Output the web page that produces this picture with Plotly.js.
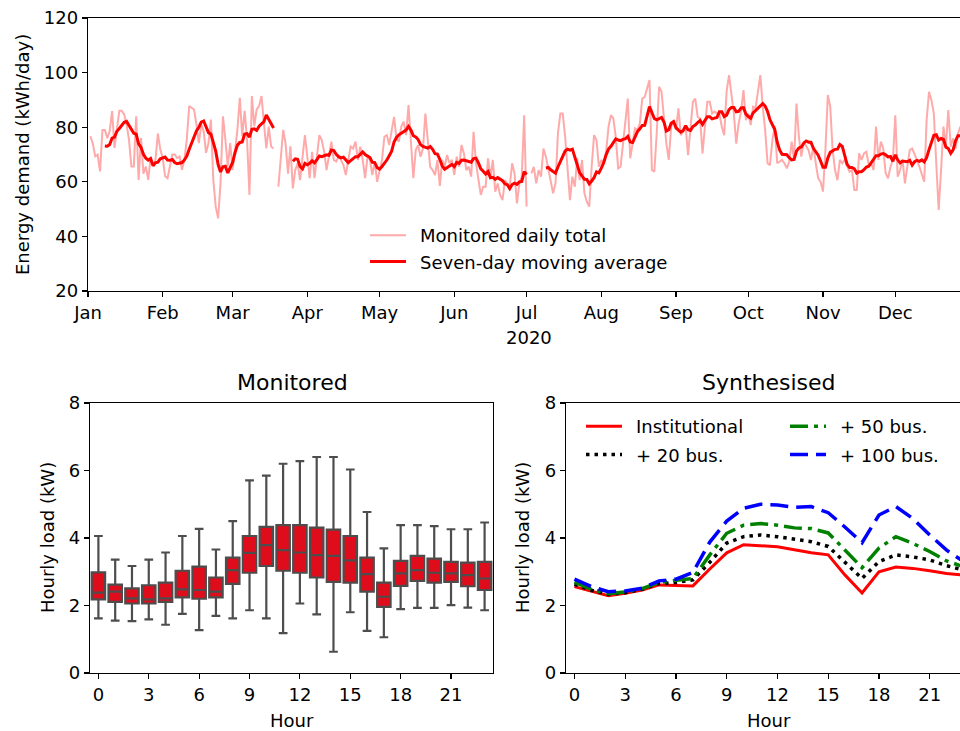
<!DOCTYPE html>
<html>
<head>
<meta charset="utf-8">
<script src="https://cdn.plot.ly/plotly-3.0.1.min.js"></script>
<style>
  html, body { margin: 0; padding: 0; overflow: hidden; background: #fff; }
  #chart { width: 980px; height: 731px; }
</style>
</head>
<body>
<div id="chart"></div>
<script>
// ---------- DATA ----------
// Daily monitored energy demand (kWh/day), one value per day starting 2020-01-01 (null = missing)
const dailyStart = '2020-01-01';
const dailyTotal = [
  null, 76.7, 74, 69.3, 69.9, 63.8, 79, 79, 76, 78.5,
  85.9, 72.4, 79, 86, 86, 84.7, 81, 75.5, 65.6, 65.6,
  84, 60.7, 76, 63, 65.6, 60.7, 69.3, 66, 68, 77.7,
  71.8, 68.7, 62, 61.3, 65.6, 70, 70, 68.7, 69.3, 64.4,
  68, 75.5, 87.7, 87.1, 86.5, 81, 74.2, 81, 78.5, 70.6,
  74.2, 82.8, 60.7, 50.9, 46.6, 59.5, 84, 75.5, 65.6, 74.2,
  64.4, 71.2, 79.1, 90.8, 76.7, 86, 75.5, 55.2, 91.4, 80.4,
  86.5, 87.7, 91.4, 81.6, 72.2, 80.2, 72.9, 72.2, null, 58.2,
  68, 79, 74, 63, 73, 57.6, 64.3, 66.8, 60.6, 68,
  77.1, 69.2, 61.3, 71, 61.3, 69.2, 77.1, 75.3, 71, 64.3,
  69.8, 74.7, 68, 67.4, 69.2, 68, 66.1, 62.5, 68, 72.9,
  72.2, 74.7, 68, 72.9, 68, 61.3, 69.2, 68, 62.5, 67.4,
  60, 64.3, 68, 76.5, 77.1, 73.5, 79, 83.8, 75.9, 74.7,
  80.2, 82, 77.1, 88.1, 74.7, 61.3, 71.6, 73.5, 69.2, 72.2,
  85, 73.5, 65.5, 64.3, 62.5, 68, 58.5, 68, 65.5, 69.8,
  66.8, 68, 62.5, 69.2, 65.5, 73.5, 70.4, 64.3, 65.5, 61.9,
  78.3, 66.8, 61.3, 55.2, 58.2, 58.2, 68.6, 61.9, 68, 56.4,
  59.4, 55.2, 53.3, 60.6, 59.4, 58.2, 66.8, 63.1, 52.1, 59.4,
  61.9, 84.4, 50.9, null, 63.1, 65.5, 59.4, 64.3, 61.9, 72.2,
  69.2, 64.3, 59.4, 55.8, 59.4, 77.7, 85, 85, 76.5, 64.3,
  53.3, 61.9, 58.2, 68.6, 60.6, 68, 55.8, 52.7, 50.9, 65.5,
  77.1, 75.3, 65.5, 68, 66.8, 71, 80.2, 84.4, 83.2, 76.5,
  64.9, 65.5, 74, 82, 90.5, 68.6, 75, 79.6, 78.9, 81.4,
  90.5, 91, 94.2, 97.3, 64.3, 63.7, 77.7, 94.8, 93, 82.6,
  74, 68, 80.2, 82, 79, 86.9, 77.1, 78.3, 80.2, 69.8,
  80.2, 89.3, 90.5, 83.8, 83.2, 70.4, 80.2, 89.3, 89.3, 85,
  85.7, 85, 85, 80.2, 77.1, 93, 99.1, 91.2, 85, 74,
  81.4, 85.7, 93.6, 82.6, 85, 80.8, 87.5, 86.9, 93.6, 99.1,
  87.5, 78.9, 66.8, 66.1, 75.3, 80.2, 66.8, 67.4, 68, 66.8,
  64.9, 67.4, 74.7, 68, 88.7, 76.5, 69.2, 74.7, 72.9, 71.6,
  68, 72.9, 66.8, 61.3, 60, 56.4, 71.6, 91.8, 87.5, 71.6,
  64.3, 60.6, 68, 66.8, 68, 65.5, 63.7, 64.3, 57, 57,
  70.4, 68, 70.4, 71, 66.1, 66.8, 64.3, 80.2, 68, 74.7,
  72.2, 63.1, 61.3, 65.5, 68, 84.4, 61.9, 64.3, 68, 59.4,
  65.5, 71.6, 72.2, 70.4, 68, 65.5, 63.1, 60, 82.6, 93,
  89.9, 85, 66.8, 49.7, 64.3, 80.2, 72.9, 86.3, 72.9, 75.9,
  72.2, 77.7, 80.2, 74
];
const monthTickLabels = ['Jan','Feb','Mar','Apr','May','Jun','Jul','Aug','Sep','Oct','Nov','Dec'];

// Monitored hourly load box statistics (kW)
const hours = [0,1,2,3,4,5,6,7,8,9,10,11,12,13,14,15,16,17,18,19,20,21,22,23];
const boxLower  = [1.62,1.55,1.54,1.59,1.43,1.75,1.27,1.69,1.62,1.86,1.62,1.18,2.06,1.74,0.63,1.80,1.25,1.06,1.89,1.93,1.93,2.01,1.94,1.86];
const boxQ1     = [2.18,2.11,2.06,2.06,2.11,2.24,2.20,2.24,2.64,2.97,3.17,3.03,2.97,2.83,2.70,2.68,2.41,1.96,2.58,2.73,2.68,2.70,2.57,2.46];
const boxMedian = [2.38,2.41,2.21,2.18,2.21,2.48,2.46,2.41,3.05,3.56,3.79,3.64,3.57,3.49,3.47,3.34,2.93,2.26,2.95,3.05,2.97,2.95,2.90,2.80];
const boxQ3     = [2.98,2.62,2.51,2.60,2.68,3.03,3.15,2.83,3.42,4.06,4.33,4.38,4.38,4.31,4.25,4.06,3.42,2.68,3.32,3.47,3.39,3.29,3.27,3.29];
const boxUpper  = [4.06,3.36,3.17,3.36,3.57,4.06,4.27,3.66,4.50,5.71,5.85,6.20,6.28,6.40,6.40,6.03,4.77,3.69,4.38,4.38,4.35,4.26,4.26,4.46];

// Synthesised hourly load profiles (kW)
const institutional = [2.56,2.43,2.29,2.36,2.46,2.61,2.60,2.58,3.08,3.56,3.80,3.78,3.74,3.65,3.56,3.50,2.90,2.37,3.00,3.14,3.10,3.03,2.95,2.90];
const plus20bus     = [2.63,2.45,2.33,2.38,2.48,2.65,2.68,2.76,3.28,3.85,4.04,4.09,4.04,3.97,3.89,3.75,3.28,2.80,3.30,3.50,3.44,3.35,3.18,3.05];
const plus50bus     = [2.69,2.48,2.35,2.40,2.50,2.68,2.75,2.80,3.50,4.14,4.38,4.43,4.38,4.30,4.28,4.15,3.64,3.12,3.70,4.04,3.84,3.60,3.32,3.15];
const plus100bus    = [2.78,2.56,2.41,2.43,2.51,2.73,2.78,2.98,3.88,4.50,4.88,5.00,4.98,4.91,4.93,4.75,4.32,3.86,4.68,4.93,4.58,4.09,3.64,3.30];
const hourTicks = [0,3,6,9,12,15,18,21];

// Seven-day (trailing) moving average of the monitored daily totals
const movingAvg = dailyTotal.map((v, i) => {
  if (i < 6) return null;
  const w = dailyTotal.slice(i - 6, i + 1);
  if (w.some(x => x === null)) return null;
  return w.reduce((a, b) => a + b, 0) / 7;
});

// ---------- LAYOUT HELPERS ----------
const W = 980, H = 731;
const fx = p => p / W;
const fy = p => 1 - p / H;
const FONT = 'DejaVu Sans, Liberation Sans, sans-serif';
const DAY = 86400000;
const GAP = '\u2002'; // spacing between legend line sample and label

const axisCommon = {
  showline: true, mirror: true, linecolor: '#000', linewidth: 1.2,
  ticks: 'outside', ticklen: 5, tickwidth: 1.2, tickcolor: '#000',
  showgrid: false, zeroline: false, automargin: false,
  tickfont: { family: FONT, size: 18, color: '#000' }
};

const traces = [
  {
    type: 'scatter', mode: 'lines', name: GAP + 'Monitored daily total',
    x0: dailyStart, dx: DAY, y: dailyTotal,
    line: { color: '#ffaaaa', width: 2 }, connectgaps: false,
    xaxis: 'x', yaxis: 'y', legend: 'legend', legendgroup: 'a'
  },
  {
    type: 'scatter', mode: 'lines', name: GAP + 'Seven-day moving average',
    x0: dailyStart, dx: DAY, y: movingAvg,
    line: { color: '#ff0000', width: 3 }, connectgaps: false,
    xaxis: 'x', yaxis: 'y', legend: 'legend', legendgroup: 'b'
  },
  {
    type: 'box', name: 'Monitored', x: hours,
    q1: boxQ1, median: boxMedian, q3: boxQ3,
    lowerfence: boxLower, upperfence: boxUpper,
    boxpoints: false, width: 0.8, whiskerwidth: 0.65,
    fillcolor: '#df0d1c', line: { color: '#4d4d4d', width: 2.2 },
    xaxis: 'x2', yaxis: 'y2', showlegend: false
  },
  {
    type: 'scatter', mode: 'lines', name: GAP + 'Institutional', x: hours, y: institutional,
    line: { color: '#ff0000', width: 3 }, xaxis: 'x3', yaxis: 'y3',
    legend: 'legend2', legendgroup: 'c'
  },
  {
    type: 'scatter', mode: 'lines', name: GAP + '+ 20 bus.', x: hours, y: plus20bus,
    line: { color: '#000000', width: 3.5, dash: '3.5px,5px' }, xaxis: 'x3', yaxis: 'y3',
    legend: 'legend2', legendgroup: 'd'
  },
  {
    type: 'scatter', mode: 'lines', name: GAP + '+ 50 bus.', x: hours, y: plus50bus,
    line: { color: '#008000', width: 3.5, dash: '18px,6px,4px,6px' }, xaxis: 'x3', yaxis: 'y3',
    legend: 'legend3', legendgroup: 'e'
  },
  {
    type: 'scatter', mode: 'lines', name: GAP + '+ 100 bus.', x: hours, y: plus100bus,
    line: { color: '#0000ff', width: 3.5, dash: '18px,8px' }, xaxis: 'x3', yaxis: 'y3',
    legend: 'legend3', legendgroup: 'f'
  }
];

const legendCommon = {
  xanchor: 'left', yanchor: 'top', bgcolor: 'rgba(0,0,0,0)', borderwidth: 0,
  font: { family: FONT, size: 18, color: '#000' },
  traceorder: 'grouped', tracegroupgap: 0, itemwidth: 36
};

const ann = (text, x, y, opts = {}) => Object.assign({
  text, x: fx(x), y: fy(y), xref: 'paper', yref: 'paper',
  xanchor: 'center', yanchor: 'middle', showarrow: false,
  font: { family: FONT, size: 18, color: '#000' }
}, opts);

const layout = {
  width: W, height: H,
  margin: { l: 0, r: 0, t: 0, b: 0 },
  paper_bgcolor: '#fff', plot_bgcolor: '#fff',
  font: { family: FONT, size: 18, color: '#000' },
  showlegend: true,
  xaxis: Object.assign({}, axisCommon, {
    domain: [fx(88), fx(970)], anchor: 'y', type: 'date',
    range: ['2020-01-01', '2021-01-01'],
    tickmode: 'array',
    tickvals: monthTickLabels.map((m, i) => '2020-' + String(i + 1).padStart(2, '0') + '-01'),
    ticktext: monthTickLabels
  }),
  yaxis: Object.assign({}, axisCommon, {
    domain: [fy(291), fy(18)], anchor: 'x', range: [20, 120], dtick: 20, tick0: 0
  }),
  xaxis2: Object.assign({}, axisCommon, {
    domain: [fx(90), fx(493)], anchor: 'y2', range: [-0.5, 23.5],
    tickmode: 'array', tickvals: hourTicks
  }),
  yaxis2: Object.assign({}, axisCommon, {
    domain: [fy(673), fy(403)], anchor: 'x2', range: [0, 8], dtick: 2, tick0: 0
  }),
  xaxis3: Object.assign({}, axisCommon, {
    domain: [fx(566), fx(972)], anchor: 'y3', range: [-0.5, 23.5],
    tickmode: 'array', tickvals: hourTicks
  }),
  yaxis3: Object.assign({}, axisCommon, {
    domain: [fy(673), fy(403)], anchor: 'x3', range: [0, 8], dtick: 2, tick0: 0
  }),
  legend: Object.assign({}, legendCommon, { x: fx(365), y: fy(217) }),
  legend2: Object.assign({}, legendCommon, { x: fx(581), y: fy(408), tracegroupgap: 2 }),
  legend3: Object.assign({}, legendCommon, { x: fx(785), y: fy(408), tracegroupgap: 2 }),
  annotations: [
    ann('Energy demand (kWh/day)', 22, 155, { textangle: -90 }),
    ann('2020', 529, 337),
    ann('Monitored', 292, 382, { font: { family: FONT, size: 22, color: '#000' } }),
    ann('Synthesised', 769, 382, { font: { family: FONT, size: 22, color: '#000' } }),
    ann('Hourly load (kW)', 47, 538, { textangle: -90 }),
    ann('Hourly load (kW)', 522, 538, { textangle: -90 }),
    ann('Hour', 292, 720),
    ann('Hour', 769, 720)
  ]
};

Plotly.newPlot('chart', traces, layout, { staticPlot: true, displayModeBar: false });
</script>
</body>
</html>
